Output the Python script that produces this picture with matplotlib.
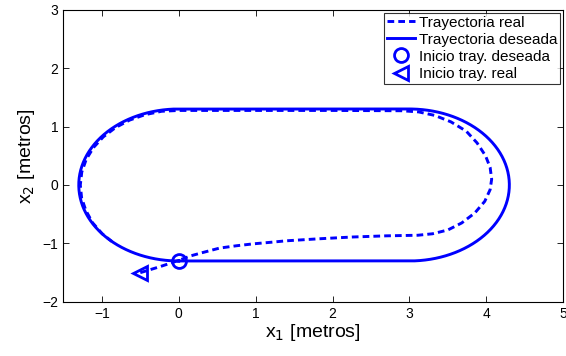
import numpy as np
import matplotlib
matplotlib.use("Agg")
import matplotlib.pyplot as plt

plt.rcParams['font.family'] = ['Liberation Sans', 'DejaVu Sans']

# Desired path: stadium with straight sides between x=0 and x=3, end radius 1.3
radius = 1.3
x_left_center = 0.0
x_right_center = 3.0

# Measured (real) path
real_x = [-0.50, -0.25, 0.00, 0.15, 0.30, 0.53, 0.75, 0.97, 1.20, 1.40, 1.83,
          2.26, 2.70, 3.11, 3.30, 3.50, 3.68, 3.85, 3.98, 4.05, 4.07, 4.05,
          3.99, 3.88, 3.74, 3.54, 3.33, 3.12, 2.90, 2.00, 1.00, 0.00,
          -0.222, -0.438, -0.640, -0.823, -0.981, -1.109, -1.203, -1.261,
          -1.280, -1.263, -1.207, -1.120, -0.995, -0.870]
real_y = [-1.50, -1.40, -1.29, -1.215, -1.16, -1.08, -1.04, -1.007, -0.98, -0.955, -0.92,
          -0.89, -0.87, -0.86, -0.835, -0.77, -0.65, -0.48, -0.28, -0.08, 0.10, 0.30,
          0.50, 0.72, 0.92, 1.08, 1.19, 1.25, 1.27, 1.275, 1.275, 1.275,
          1.261, 1.203, 1.109, 0.981, 0.823, 0.640, 0.438, 0.222,
          0.000, -0.223, -0.439, -0.647, -0.835, -0.966]

start_desired = (0.0, -1.3)
start_real = (-0.5, -1.5)

# Stadium outline: bottom straight -> right arc -> top straight -> left arc
theta_r = np.linspace(-np.pi / 2, np.pi / 2, 120)
theta_l = np.linspace(np.pi / 2, 3 * np.pi / 2, 120)
des_x = np.concatenate([
    np.array([x_left_center, x_right_center]),
    x_right_center + radius * np.cos(theta_r),
    np.array([x_right_center, x_left_center]),
    x_left_center + radius * np.cos(theta_l),
])
des_y = np.concatenate([
    np.array([-radius, -radius]),
    radius * np.sin(theta_r),
    np.array([radius, radius]),
    radius * np.sin(theta_l),
])

fig = plt.figure(figsize=(5.66, 3.56), dpi=100)
ax = fig.add_axes([0.112, 0.152, 0.883, 0.821])

blue = '#0000ff'
ax.plot(real_x, real_y, color=blue, lw=2.1, ls=(0, (2.3, 1.4)), label='Trayectoria real')
ax.plot(des_x, des_y, color=blue, lw=2.1, label='Trayectoria deseada')
ax.plot(*start_desired, 'o', color=blue, mfc='none', ms=10, mew=2.0,
        label='Inicio tray. deseada', ls='none')
ax.plot(*start_real, '<', color=blue, mfc='none', ms=10, mew=2.0,
        label='Inicio tray. real', ls='none')

ax.set_xlim(-1.5, 5)
ax.set_ylim(-2, 3)
ax.set_xticks([-1, 0, 1, 2, 3, 4, 5])
ax.set_yticks([-2, -1, 0, 1, 2, 3])
ax.tick_params(direction='in', top=True, right=True, labelsize=10, length=4.5, width=0.6)
for s in ax.spines.values():
    s.set_linewidth(0.8)

ax.set_xlabel(r'x$_1$ [metros]', fontsize=14, labelpad=1)
ax.set_ylabel(r'x$_2$ [metros]', fontsize=14, labelpad=4)

leg = ax.legend(loc='upper right', fontsize=11, frameon=True, fancybox=False,
                edgecolor='black', borderaxespad=0.2, handlelength=1.8,
                handletextpad=0.25, borderpad=0.2, labelspacing=0.2)
leg.get_frame().set_linewidth(0.8)

fig.savefig('out.png', dpi=100)
